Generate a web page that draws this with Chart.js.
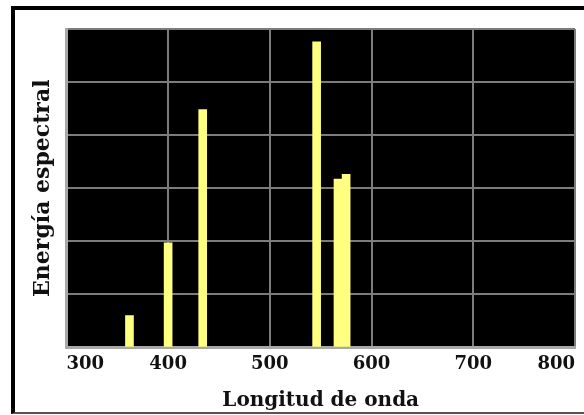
<!DOCTYPE html>
<html>
<head>
<meta charset="utf-8">
<script src="https://cdn.jsdelivr.net/npm/chart.js@4/dist/chart.umd.min.js"></script>
<style>
  html, body { margin: 0; padding: 0; background: #fff; overflow: hidden; }
  body { width: 584px; height: 415px; position: relative; }
  #frame {
    position: absolute; left: 11px; top: 6px; width: 600px; height: 408px;
    border-left: 4px solid #000; border-top: 4px solid #000;
    border-bottom: 2px solid #555; box-sizing: border-box;
  }
  #wrap { position: absolute; left: 15px; top: 10px; width: 585px; height: 405px; }
</style>
</head>
<body>
<div id="frame"></div>
<div id="wrap"><canvas id="spectrum"></canvas></div>
<script>
const wavelengths = [362, 400, 434, 546, 567, 575]
const energy = [0.6, 1.97, 4.48, 5.76, 3.17, 3.26]
const xTicks = [300, 400, 500, 600, 700, 800]

const blackPlot = {
  id: 'blackPlot',
  beforeDraw(chart) {
    const { ctx, chartArea } = chart
    ctx.save()
    ctx.fillStyle = '#000'
    ctx.fillRect(chartArea.left, chartArea.top, chartArea.right - chartArea.left, chartArea.bottom - chartArea.top)
    ctx.restore()
  },
}

const serif = 'DejaVu Serif'

new Chart(document.getElementById('spectrum'), {
  type: 'bar',
  data: {
    datasets: [{
      data: wavelengths.map((w, i) => ({ x: w, y: energy[i] })),
      backgroundColor: '#ffff80',
      borderWidth: 0,
      barThickness: 8,
    }],
  },
  options: {
    responsive: true,
    maintainAspectRatio: false,
    animation: false,
    layout: { padding: { top: 19, right: 25, left: 15, bottom: 0 } },
    plugins: { legend: { display: false }, tooltip: { enabled: false } },
    scales: {
      x: {
        type: 'linear',
        min: 300,
        max: 800,
        offset: false,
        afterBuildTicks: (axis) => { axis.ticks = xTicks.map((v) => ({ value: v })) },
        grid: { color: '#7c7c7c', lineWidth: 2, drawTicks: false, offset: false },
        border: { display: true, color: '#a8a8a8', width: 3 },
        ticks: {
          color: '#111',
          padding: 6,
          align: 'inner',
          maxRotation: 0,
          font: { family: serif, size: 18, weight: 'bold' },
        },
        title: {
          display: true,
          text: 'Longitud de onda',
          color: '#111',
          padding: { top: 8, bottom: 2 },
          font: { family: serif, size: 20, weight: 'bold' },
        },
      },
      y: {
        min: 0,
        max: 6,
        ticks: { display: false, stepSize: 1 },
        grid: { color: '#7c7c7c', lineWidth: 2, drawTicks: false },
        border: { display: true, color: '#a8a8a8', width: 3 },
        title: {
          display: true,
          text: 'Energía espectral',
          color: '#111',
          padding: { top: 0, bottom: 10 },
          font: { family: serif, size: 22, weight: 'bold' },
        },
      },
    },
  },
  plugins: [blackPlot],
})
</script>
</body>
</html>
